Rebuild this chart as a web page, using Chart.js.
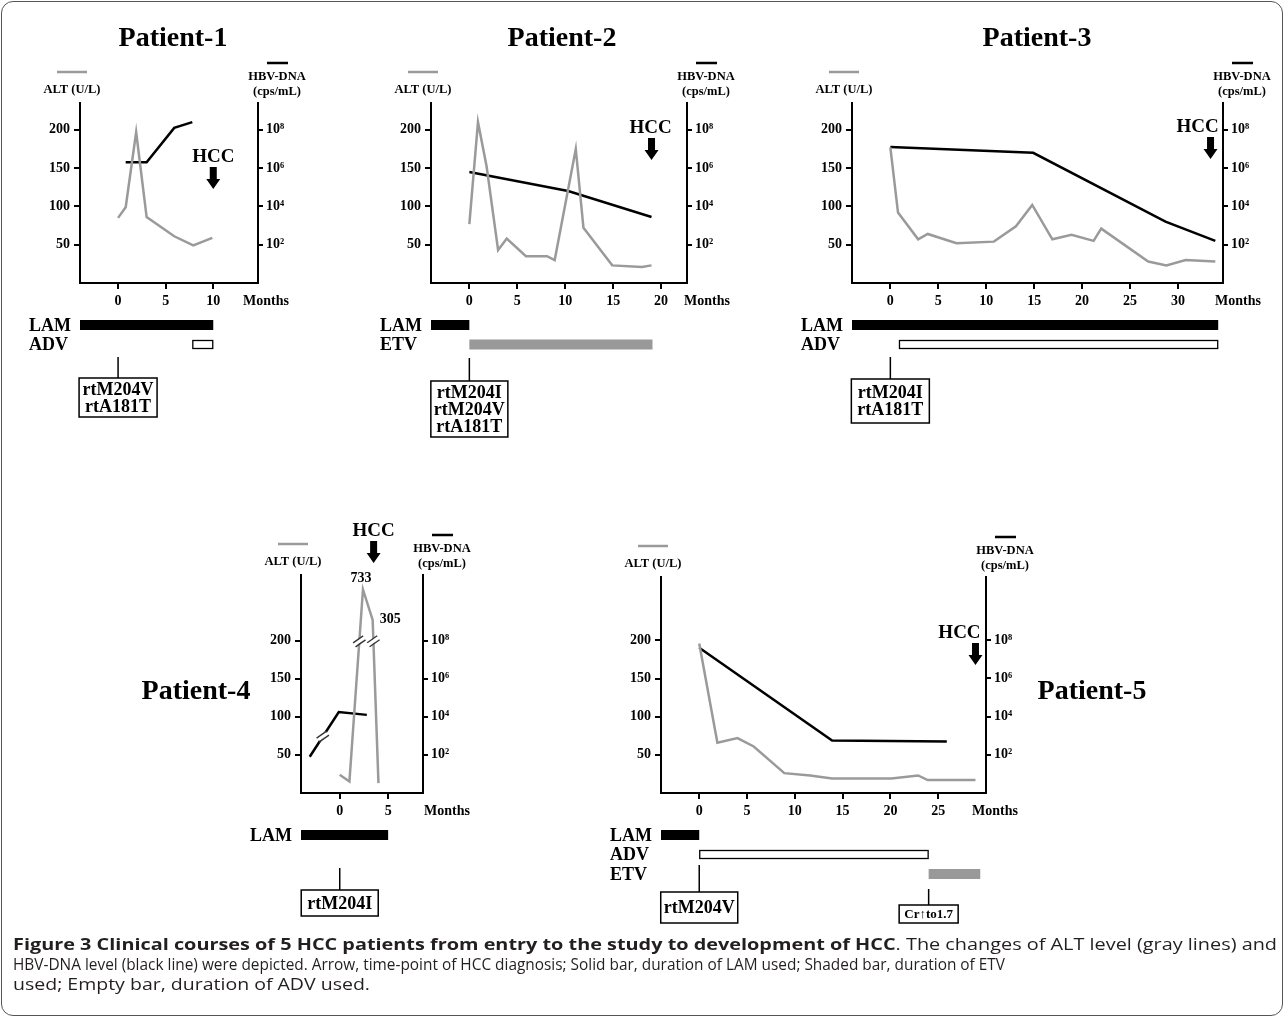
<!DOCTYPE html>
<html lang="en">
<head>
<meta charset="UTF-8">
<title>Figure 3 - Clinical courses of 5 HCC patients</title>
<script src="https://cdn.jsdelivr.net/npm/chart.js"></script>
<style>
    body { margin: 0; background: #fff; }
    .page { position: relative; width: 1285px; height: 1020px; overflow: hidden; }
    .frame { position: absolute; left: 1px; top: 1px; width: 1280px; height: 1013px; border: 1px solid #555; border-radius: 12px; }
    canvas { position: absolute; left: 0; top: 0; }
    .titulo { position: absolute; transform: translate(-50%, -50%); font: bold 28px "Liberation Serif", serif; white-space: nowrap; }
    .cap { position: absolute; left: 13px; font: 16px "Open Sans", sans-serif; color: #231f20; white-space: nowrap; transform-origin: 0 50%; }
    .cap b { font-weight: 700; }
</style>
</head>
<body>
<div class="page">
    <div class="frame"></div>
    <canvas id="p1" width="1285" height="1020"></canvas>
    <canvas id="p2" width="1285" height="1020"></canvas>
    <canvas id="p3" width="1285" height="1020"></canvas>
    <canvas id="p4" width="1285" height="1020"></canvas>
    <canvas id="p5" width="1285" height="1020"></canvas>

    <div class="titulo" style="left:173px; top:37px;">Patient-1</div>
    <div class="titulo" style="left:562px; top:37px;">Patient-2</div>
    <div class="titulo" style="left:1037px; top:37px;">Patient-3</div>
    <div class="titulo" style="left:196px; top:690px;">Patient-4</div>
    <div class="titulo" style="left:1092px; top:690px;">Patient-5</div>

    <div class="cap" data-w="1264" style="top:933px;"><b>Figure 3 Clinical courses of 5 HCC patients from entry to the study to development of HCC</b>. The changes of ALT level (gray lines) and</div>
    <div class="cap" data-w="992" style="top:953px;">HBV-DNA level (black line) were depicted. Arrow, time-point of HCC diagnosis; Solid bar, duration of LAM used; Shaded bar, duration of ETV</div>
    <div class="cap" data-w="357" style="top:973px;">used; Empty bar, duration of ADV used.</div>
</div>

<script>
    // ---- Patient-1 ----
    const p1Month = [0, 0.8, 1.9, 3, 5.9, 7.9, 9.9];
    const p1Alt = [85, 99, 197, 86, 61, 49, 59];
    const p1DnaMonth = [0.8, 3, 5.9, 7.8];
    const p1DnaLog = [6.3, 6.3, 8.1, 8.4];
    const p1Lam = [-4, 10];
    const p1Adv = [7.8, 10];
    const p1Hcc = 10;
    const p1MutMonth = 0;
    const p1MutText = ['rtM204V', 'rtA181T'];

    // ---- Patient-2 ----
    const p2Month = [0, 0.9, 1.8, 3, 3.9, 5.9, 8.1, 8.9, 11.1, 11.9, 14.9, 18, 19];
    const p2Alt = [77, 210, 152, 43, 58, 35, 35, 30, 175, 72, 23, 21, 23];
    const p2DnaMonth = [0, 10.3, 19];
    const p2DnaLog = [5.8, 4.8, 3.45];
    const p2Lam = [-4, 0];
    const p2Etv = [0, 19.1];
    const p2Hcc = 19;
    const p2MutMonth = 0;
    const p2MutText = ['rtM204I', 'rtM204V', 'rtA181T'];

    // ---- Patient-3 ----
    const p3Month = [0, 0.8, 2.9, 3.9, 6.9, 10.8, 13.1, 14.8, 16.9, 18.9, 21.2, 22, 26.9, 28.8, 30.8, 33.9];
    const p3Alt = [177, 92, 57, 64, 52, 54, 74, 102, 57, 63, 55, 71, 28, 23, 30, 28];
    const p3DnaMonth = [0, 14.9, 28.7, 33.9];
    const p3DnaLog = [7.1, 6.8, 3.2, 2.2];
    const p3Lam = [-4, 34.2];
    const p3Adv = [0.9, 34.2];
    const p3Hcc = 33.4;
    const p3MutMonth = 0;
    const p3MutText = ['rtM204I', 'rtA181T'];

    // ---- Patient-4 (ALT axis is broken above 200) ----
    const p4Month = [0, 1, 2.4, 3.4, 4];
    const p4Alt = [24, 15, 267, 227, 13];
    const p4AltNotes = ['', '', '733', '305', ''];
    const p4DnaMonth = [-3.1, -0.1, 2.8];
    const p4DnaLog = [1.9, 4.25, 4.1];
    const p4Lam = [-4, 5];
    const p4Hcc = 3.5;
    const p4MutMonth = 0;
    const p4MutText = ['rtM204I'];

    // ---- Patient-5 ----
    const p5Month = [0, 1.9, 4, 5.7, 8.9, 11.6, 13.9, 20.1, 22.9, 23.9, 28.9];
    const p5Alt = [196, 66, 72, 61, 26, 23, 19, 19, 23, 17, 17];
    const p5DnaMonth = [0, 13.9, 25.9];
    const p5DnaLog = [7.6, 2.75, 2.7];
    const p5Lam = [-4, 0];
    const p5Adv = [0, 24];
    const p5Etv = [24, 29.4];
    const p5Hcc = 28.9;
    const p5MutMonth = 0;
    const p5MutText = ['rtM204V'];
    const p5CrMonth = 24;
    const p5CrText = ['Cr\u2191to1.7'];

    const altTicks = [50, 100, 150, 200];
    const dnaTicks = [2, 4, 6, 8];
    const sup = { 2: '\u00B2', 4: '\u2074', 6: '\u2076', 8: '\u2078' };

    const altColor = '#9a9a9a';
    const serif = size => `bold ${size}px "Liberation Serif", "DejaVu Serif", serif`;
    const W = 1285, H = 1020;

    function pts(xs, ys) {
        return xs.map((m, i) => ({ x: m, y: ys[i] }));
    }

    function seg(ctx, x0, y0, x1, y1) {
        ctx.beginPath();
        ctx.moveTo(x0, y0);
        ctx.lineTo(x1, y1);
        ctx.stroke();
    }

    function arrowDown(ctx, x, y0, y1) {
        const head = 10, shaft = 3.5, hw = 7;
        ctx.beginPath();
        ctx.moveTo(x - shaft, y0);
        ctx.lineTo(x + shaft, y0);
        ctx.lineTo(x + shaft, y1 - head);
        ctx.lineTo(x + hw, y1 - head);
        ctx.lineTo(x, y1);
        ctx.lineTo(x - hw, y1 - head);
        ctx.lineTo(x - shaft, y1 - head);
        ctx.closePath();
        ctx.fill();
    }

    function drawExtras(chart, cfg) {
        const ctx = chart.ctx;
        const a = chart.chartArea;
        const sx = chart.scales.x;
        ctx.save();
        ctx.textBaseline = 'middle';

        // legend keys
        ctx.lineWidth = 2.5;
        ctx.strokeStyle = altColor;
        seg(ctx, a.left - 23, a.top - 31, a.left + 7, a.top - 31);
        ctx.strokeStyle = '#000';
        seg(ctx, a.right + 9, a.top - 40, a.right + 30, a.top - 40);
        ctx.fillStyle = '#000';
        ctx.font = serif(12.5);
        ctx.textAlign = 'center';
        ctx.fillText('ALT (U/L)', a.left - 8, a.top - 13);
        ctx.fillText('HBV-DNA', a.right + 19, a.top - 26);
        ctx.fillText('(cps/mL)', a.right + 19, a.top - 11);

        ctx.font = serif(14);
        ctx.fillText('Months', a.right + cfg.monthsDx, a.bottom + 18);

        // HCC arrow
        const hx = sx.getPixelForValue(cfg.hcc);
        ctx.font = serif(19);
        ctx.fillText('HCC', hx + cfg.hccDx, a.top + cfg.hccY);
        arrowDown(ctx, hx, a.top + cfg.hccY + 10, a.top + cfg.hccY + 32);

        // drug bars
        cfg.drugs.forEach((d, i) => {
            const cy = a.bottom + 42 + i * 19.5;
            ctx.font = serif(18);
            ctx.textAlign = 'left';
            ctx.fillStyle = '#000';
            ctx.fillText(d[0], a.left - 51, cy + 1);
            const x0 = sx.getPixelForValue(d[1][0]);
            const x1 = sx.getPixelForValue(d[1][1]);
            if (d[2] === 'empty') {
                ctx.fillStyle = '#fff';
                ctx.fillRect(x0, cy - 4, x1 - x0, 8);
                ctx.lineWidth = 1.3;
                ctx.strokeStyle = '#000';
                ctx.strokeRect(x0 + 0.5, cy - 4, x1 - x0 - 1, 8);
            } else {
                ctx.fillStyle = d[2] === 'solid' ? '#000' : '#999';
                ctx.fillRect(x0, cy - 5, x1 - x0, 10);
            }
        });

        // mutation boxes
        cfg.muts.forEach(m => {
            const mx = sx.getPixelForValue(m.month);
            ctx.strokeStyle = '#000';
            ctx.lineWidth = 1.5;
            seg(ctx, mx, a.bottom + m.from, mx, a.bottom + m.to);
            const top = a.bottom + m.to;
            ctx.fillStyle = '#fff';
            ctx.fillRect(mx - m.w / 2, top, m.w, m.h);
            ctx.strokeRect(mx - m.w / 2, top, m.w, m.h);
            ctx.fillStyle = '#000';
            ctx.font = serif(m.size);
            ctx.textAlign = 'center';
            const lh = m.size - 1;
            const y0 = top + m.h / 2 - (m.text.length - 1) * lh / 2;
            m.text.forEach((t, k) => ctx.fillText(t, mx, y0 + k * lh + 1));
        });

        // value notes on points (axis break values)
        if (cfg.notes) {
            const meta = chart.getDatasetMeta(0);
            ctx.font = serif(14);
            cfg.notes.forEach((t, i) => {
                if (!t) return;
                const p = meta.data[i];
                if (i === 2) {
                    ctx.textAlign = 'center';
                    ctx.fillText(t, p.x - 2, p.y - 11);
                } else {
                    ctx.textAlign = 'left';
                    ctx.fillText(t, p.x + 7, p.y - 1);
                }
            });
        }

        // axis break marks "//"
        if (cfg.breaks) {
            cfg.breaks.forEach(b => {
                const meta = chart.getDatasetMeta(b[0]);
                const p0 = meta.data[b[1]], p1 = meta.data[b[1] + 1];
                const bx = p0.x + (p1.x - p0.x) * b[2];
                const by = p0.y + (p1.y - p0.y) * b[2];
                ctx.fillStyle = '#fff';
                ctx.beginPath();
                ctx.moveTo(bx - 5, by + 1.5);
                ctx.lineTo(bx + 3, by - 5.5);
                ctx.lineTo(bx + 5, by - 2.5);
                ctx.lineTo(bx - 3, by + 4.5);
                ctx.closePath();
                ctx.fill();
                ctx.strokeStyle = '#333';
                ctx.lineWidth = 1.3;
                [-2, 2].forEach(o => seg(ctx, bx - 5 + o * 0.6, by + o + 3.5, bx + 5 + o * 0.6, by + o - 3.5));
            });
        }
        ctx.restore();
    }

    function makePanel(id, cfg) {
        const b = cfg.box;
        new Chart(document.getElementById(id).getContext('2d'), {
            type: 'line',
            data: {
                datasets: [
                    {
                        label: 'ALT (U/L)',
                        data: pts(cfg.altX, cfg.altY),
                        yAxisID: 'y',
                        borderColor: altColor,
                        borderWidth: 2.5,
                        pointRadius: 0,
                        tension: 0,
                        fill: false
                    },
                    {
                        label: 'HBV-DNA (cps/mL)',
                        data: pts(cfg.dnaX, cfg.dnaLog.map(v => Math.pow(10, v))),
                        yAxisID: 'y2',
                        borderColor: '#000',
                        borderWidth: 2.5,
                        pointRadius: 0,
                        tension: 0,
                        fill: false
                    }
                ]
            },
            options: {
                responsive: false,
                animation: false,
                events: [],
                layout: {
                    padding: { left: b.left - 60, right: W - b.right - 60, top: b.top, bottom: H - b.bottom - 40 }
                },
                plugins: { legend: { display: false }, tooltip: { enabled: false } },
                scales: {
                    x: {
                        type: 'linear',
                        min: -4,
                        max: cfg.xMax,
                        afterBuildTicks: s => { s.ticks = cfg.xTicks.map(v => ({ value: v })); },
                        afterFit: s => { s.height = 40; },
                        border: { color: '#000', width: 2 },
                        grid: { drawOnChartArea: false, tickLength: 6, color: '#000', lineWidth: 2 },
                        ticks: { font: { family: '"Liberation Serif", serif', weight: 'bold', size: 14 }, color: '#000', padding: 4, maxRotation: 0, autoSkip: false }
                    },
                    y: {
                        position: 'left',
                        min: 0,
                        max: cfg.altMax,
                        afterBuildTicks: s => { s.ticks = altTicks.map(v => ({ value: v })); },
                        afterFit: s => { s.width = 60; },
                        border: { color: '#000', width: 2 },
                        grid: { drawOnChartArea: false, tickLength: 6, color: '#000', lineWidth: 2 },
                        ticks: { font: { family: '"Liberation Serif", serif', weight: 'bold', size: 14 }, color: '#000', padding: 4 }
                    },
                    y2: {
                        type: 'logarithmic',
                        position: 'right',
                        min: 1,
                        max: Math.pow(10, cfg.logMax),
                        afterBuildTicks: s => { s.ticks = dnaTicks.map(v => ({ value: Math.pow(10, v) })); },
                        afterFit: s => { s.width = 60; },
                        border: { color: '#000', width: 2 },
                        grid: { drawOnChartArea: false, tickLength: 5, color: '#000', lineWidth: 2 },
                        ticks: {
                            font: { family: '"Liberation Serif", serif', weight: 'bold', size: 14 },
                            color: '#000',
                            padding: 3,
                            callback: v => '10' + sup[Math.round(Math.log10(v))]
                        }
                    }
                }
            },
            plugins: [{ id: 'extras_' + id, afterDraw: chart => drawExtras(chart, cfg) }]
        });
    }

    makePanel('p1', {
        box: { left: 80, right: 258, top: 103, bottom: 283 },
        xMax: 14.7, xTicks: [0, 5, 10], altMax: 235, logMax: 9.4,
        altX: p1Month, altY: p1Alt, dnaX: p1DnaMonth, dnaLog: p1DnaLog,
        hcc: p1Hcc, hccY: 54, hccDx: 0, monthsDx: 8,
        drugs: [['LAM', p1Lam, 'solid'], ['ADV', p1Adv, 'empty']],
        muts: [{ month: p1MutMonth, text: p1MutText, from: 74, to: 95, w: 78, h: 39, size: 18 }]
    });

    makePanel('p2', {
        box: { left: 431, right: 687, top: 103, bottom: 283 },
        xMax: 22.7, xTicks: [0, 5, 10, 15, 20], altMax: 235, logMax: 9.4,
        altX: p2Month, altY: p2Alt, dnaX: p2DnaMonth, dnaLog: p2DnaLog,
        hcc: p2Hcc, hccY: 25, hccDx: -1, monthsDx: 20,
        drugs: [['LAM', p2Lam, 'solid'], ['ETV', p2Etv, 'shaded']],
        muts: [{ month: p2MutMonth, text: p2MutText, from: 75, to: 98, w: 77, h: 56, size: 18 }]
    });

    makePanel('p3', {
        box: { left: 852, right: 1223, top: 103, bottom: 283 },
        xMax: 34.7, xTicks: [0, 5, 10, 15, 20, 25, 30], altMax: 235, logMax: 9.4,
        altX: p3Month, altY: p3Alt, dnaX: p3DnaMonth, dnaLog: p3DnaLog,
        hcc: p3Hcc, hccY: 24, hccDx: -13, monthsDx: 15,
        drugs: [['LAM', p3Lam, 'solid'], ['ADV', p3Adv, 'empty']],
        muts: [{ month: p3MutMonth, text: p3MutText, from: 74, to: 96, w: 78, h: 44, size: 18 }]
    });

    makePanel('p4', {
        box: { left: 301, right: 423, top: 575, bottom: 793 },
        xMax: 8.6, xTicks: [0, 5], altMax: 286, logMax: 11.44,
        altX: p4Month, altY: p4Alt, dnaX: p4DnaMonth, dnaLog: p4DnaLog,
        hcc: p4Hcc, hccY: -44, hccDx: 0, monthsDx: 24,
        notes: p4AltNotes,
        breaks: [[0, 1, 0.73], [0, 3, 0.13], [1, 0, 0.45]],
        drugs: [['LAM', p4Lam, 'solid']],
        muts: [{ month: p4MutMonth, text: p4MutText, from: 75, to: 97, w: 77, h: 26, size: 18 }]
    });

    makePanel('p5', {
        box: { left: 661, right: 986, top: 577, bottom: 793 },
        xMax: 30, xTicks: [0, 5, 10, 15, 20, 25], altMax: 283, logMax: 11.3,
        altX: p5Month, altY: p5Alt, dnaX: p5DnaMonth, dnaLog: p5DnaLog,
        hcc: p5Hcc, hccY: 56, hccDx: -16, monthsDx: 9,
        drugs: [['LAM', p5Lam, 'solid'], ['ADV', p5Adv, 'empty'], ['ETV', p5Etv, 'shaded']],
        muts: [
            { month: p5MutMonth, text: p5MutText, from: 72, to: 99, w: 77, h: 31, size: 18 },
            { month: p5CrMonth, text: p5CrText, from: 96, to: 112, w: 59, h: 18, size: 13 }
        ]
    });

    // stretch each caption line to the width it has in the printed figure
    function fitCaption() {
        document.querySelectorAll('.cap').forEach(el => {
            el.style.transform = 'none';
            const w = el.getBoundingClientRect().width;
            el.style.transform = `scaleX(${el.dataset.w / w})`;
        });
    }
    fitCaption();
    if (document.fonts) document.fonts.ready.then(fitCaption);
</script>
</body>
</html>
